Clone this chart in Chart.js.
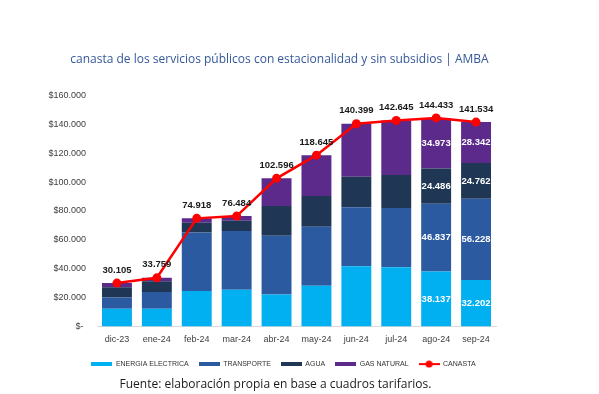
<!DOCTYPE html>
<html>
<head>
<meta charset="utf-8">
<script src="https://cdn.jsdelivr.net/npm/chart.js@4.4.1/dist/chart.umd.min.js"></script>
<style>
  body { margin: 0; background: #fff; }
  canvas { display: block; }
</style>
</head>
<body>
<canvas id="chart" width="599" height="394"></canvas>
<script>
// datos (pesos)
const months = ['dic-23', 'ene-24', 'feb-24', 'mar-24', 'abr-24', 'may-24', 'jun-24', 'jul-24', 'ago-24', 'sep-24'];
const energia = [12300, 12300, 24600, 25500, 22300, 28300, 41700, 41000, 38137, 32202];
const transporte = [7800, 11600, 40600, 40600, 40500, 40800, 40900, 41100, 46837, 56228];
const agua = [7200, 7500, 6700, 7200, 20700, 21300, 21100, 22900, 24486, 24762];
const gas = [2800, 2400, 3000, 3200, 19100, 28200, 36700, 37600, 34973, 28342];
const canasta = [30105, 33759, 74918, 76484, 102596, 118645, 140399, 142645, 144433, 141534];
const yTicks = [0, 20000, 40000, 60000, 80000, 100000, 120000, 140000, 160000];
const labeledMonths = ['ago-24', 'sep-24'];

const fmt = v => Math.round(v).toString().replace(/\B(?=(\d{3})+(?!\d))/g, '.');

const colors = {
  energia: '#00b0f0',
  transporte: '#2c5aa0',
  agua: '#1f3654',
  gas: '#5c2a8a',
  canasta: '#ff0000'
};

// simbolos de la leyenda
function barSymbol(color) {
  const c = document.createElement('canvas');
  c.width = 21; c.height = 4;
  const g = c.getContext('2d');
  g.fillStyle = color;
  g.fillRect(0, 0, 21, 4);
  return c;
}
function lineSymbol(color) {
  const c = document.createElement('canvas');
  c.width = 21; c.height = 8;
  const g = c.getContext('2d');
  g.fillStyle = color;
  g.fillRect(0, 3, 21, 2);
  g.beginPath();
  g.arc(10.5, 4, 3.5, 0, Math.PI * 2);
  g.fill();
  return c;
}
const legendSymbols = [
  barSymbol(colors.energia), barSymbol(colors.transporte), barSymbol(colors.agua),
  barSymbol(colors.gas), lineSymbol(colors.canasta)
];

// etiquetas de datos
const dataLabels = {
  id: 'dataLabels',
  afterDatasetsDraw(chart) {
    const ctx = chart.ctx;
    ctx.save();
    ctx.textAlign = 'center';
    ctx.textBaseline = 'middle';
    ctx.font = 'bold 9.5px "Liberation Sans", Arial, sans-serif';
    chart.data.datasets.forEach((ds, i) => {
      const meta = chart.getDatasetMeta(i);
      meta.data.forEach((el, j) => {
        if (ds.type === 'line') {
          ctx.fillStyle = '#1a1a1a';
          ctx.fillText(fmt(ds.data[j]), el.x, el.y - 13);
        } else if (labeledMonths.includes(months[j])) {
          ctx.fillStyle = '#ffffff';
          ctx.fillText(fmt(ds.data[j]), el.x, (el.y + el.base) / 2);
        }
      });
    });
    ctx.restore();
  }
};

// corre un poco titulo, leyenda y fuente
const nudge = {
  id: 'nudge',
  afterLayout(chart) {
    const move = (box, dx) => { if (box) { box.left += dx; box.right += dx; } };
    move(chart.legend, 18);
    move(chart.titleBlock, 14);
    move(chart.boxes.find(b => b.options && b.options.text && b.position === 'bottom' && b !== chart.legend), 10);
  }
};

new Chart(document.getElementById('chart'), {
  data: {
    labels: months,
    datasets: [
      { type: 'bar', label: 'ENERGIA ELECTRICA', data: energia, backgroundColor: colors.energia, stack: 'a', order: 2 },
      { type: 'bar', label: 'TRANSPORTE', data: transporte, backgroundColor: colors.transporte, stack: 'a', order: 2 },
      { type: 'bar', label: 'AGUA', data: agua, backgroundColor: colors.agua, stack: 'a', order: 2 },
      { type: 'bar', label: 'GAS NATURAL', data: gas, backgroundColor: colors.gas, stack: 'a', order: 2 },
      {
        type: 'line', label: 'CANASTA', data: canasta, stack: 'line', order: 1,
        borderColor: colors.canasta, borderWidth: 2.5, backgroundColor: colors.canasta,
        pointRadius: 4.5, pointBackgroundColor: colors.canasta, pointBorderWidth: 0,
        tension: 0
      }
    ]
  },
  options: {
    responsive: false,
    animation: false,
    layout: { padding: { left: 35, right: 103, top: 0, bottom: 2 } },
    datasets: { bar: { barPercentage: 0.75, categoryPercentage: 1 } },
    scales: {
      x: {
        stacked: true,
        grid: { display: false, drawTicks: false },
        border: { display: true, color: '#d9d9d9' },
        ticks: { color: '#404040', font: { family: '"Liberation Sans", Arial', size: 9 }, padding: 8, maxRotation: 0 },
        afterFit: s => { s.height = 24; }
      },
      y: {
        stacked: true,
        min: 0, max: 160000,
        afterBuildTicks: s => { s.ticks = yTicks.map(v => ({ value: v })); },
        grid: { display: false, drawTicks: false },
        border: { display: false },
        ticks: {
          color: '#404040', padding: 11,
          font: { family: '"Liberation Sans", Arial', size: 9 },
          callback: v => v === 0 ? '$- ' : '$' + fmt(v)
        },
        afterFit: s => { s.width = 62; }
      }
    },
    plugins: {
      title: {
        display: true,
        text: 'canasta de los servicios públicos con estacionalidad y sin subsidios | AMBA',
        color: '#35589a',
        font: { family: '"Open Sans", sans-serif', size: 12, weight: 'normal' },
        padding: { top: 52, bottom: 29 }
      },
      subtitle: {
        display: true,
        position: 'bottom',
        text: 'Fuente: elaboración propia en base a cuadros tarifarios.',
        color: '#1a1a1a',
        font: { family: '"Open Sans", sans-serif', size: 12, weight: 'normal' },
        padding: { top: 0, bottom: 0 }
      },
      legend: {
        position: 'bottom',
        labels: {
          usePointStyle: true,
          pointStyleWidth: 21,
          boxHeight: 7,
          padding: 10,
          color: '#333333',
          font: { family: '"Liberation Sans", Arial', size: 7 },
          sort: (a, b) => a.datasetIndex - b.datasetIndex,
          generateLabels: chart => Chart.defaults.plugins.legend.labels.generateLabels(chart).map(item => {
            item.pointStyle = legendSymbols[item.datasetIndex];
            return item;
          })
        }
      },
      tooltip: { enabled: false }
    }
  },
  plugins: [dataLabels, nudge]
});
</script>
</body>
</html>
